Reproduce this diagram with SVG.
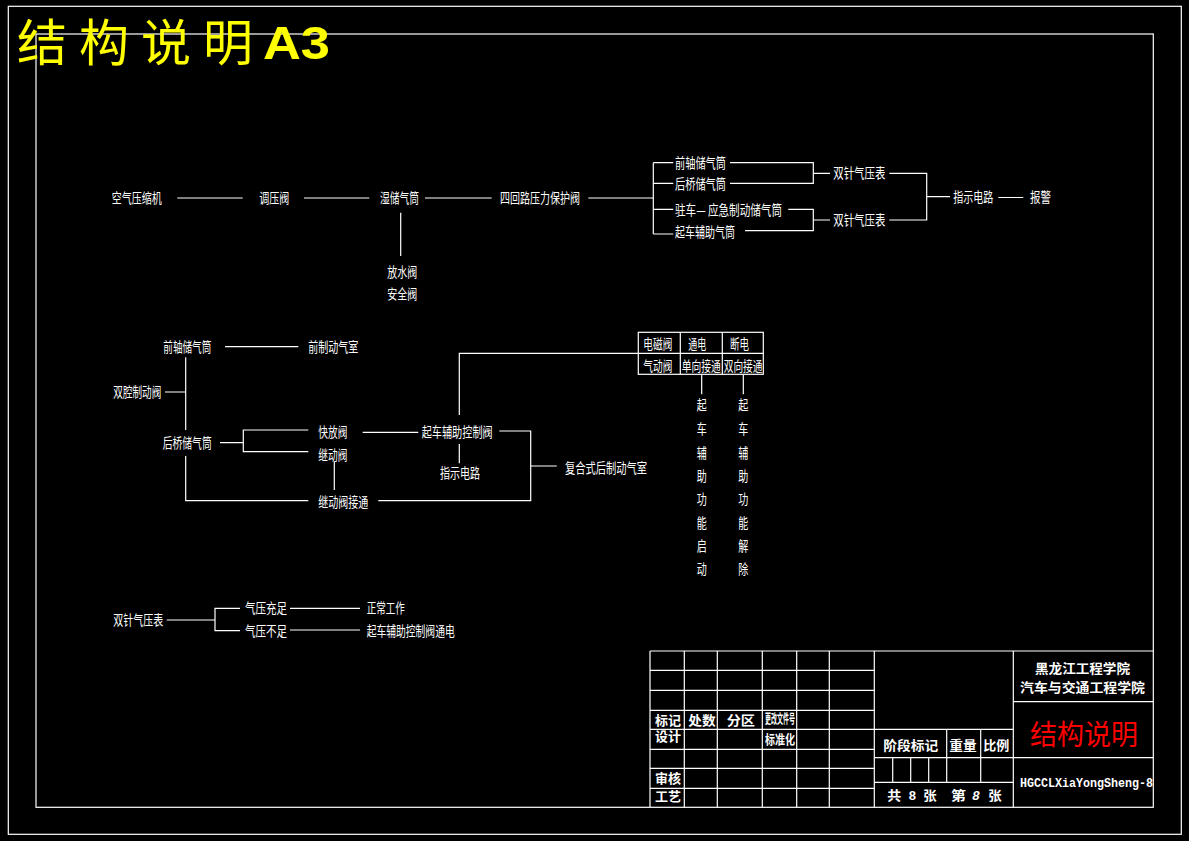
<svg xmlns="http://www.w3.org/2000/svg" width="1189" height="841" viewBox="0 0 1189 841">
<style>
.ln{fill:none;stroke:#ffffff;stroke-width:1.2}
.t{font-family:"Noto Sans CJK SC","Noto Sans",sans-serif;font-size:14px;fill:#ffffff}
.v{font-family:"Noto Sans CJK SC","Noto Sans",sans-serif;font-size:14px;fill:#ffffff;text-anchor:middle}
.b{font-family:"Noto Sans CJK SC","Noto Sans",sans-serif;font-size:13px;font-weight:bold;fill:#ffffff}
.m{font-family:"Liberation Mono",monospace;font-size:13px;font-weight:bold;fill:#ffffff}
</style>
<rect x="0" y="0" width="1189" height="841" fill="#000000"/>
<g id="frame" class="ln">
<rect x="8.3" y="6.3" width="1173" height="828"/>
<rect x="36" y="34" width="1117.3" height="773.3"/>
</g>
<g id="title">
<text x="17 79 141 203" y="61" font-family="'Noto Sans CJK SC',sans-serif" font-size="50" fill="#ffff00">结构说明</text>
<text x="263" y="58.5" font-family="'Liberation Sans',Arial,sans-serif" font-size="47" font-weight="bold" fill="#ffff00" textLength="67" lengthAdjust="spacingAndGlyphs">A3</text>
</g>
<g id="connectors" class="ln">
<path d="M177.3 198H242.7M304 198H369.3M425 198H491.7M588.3 198H653.3M400.7 212.7V256"/>
<path d="M653.3 162.7V234M653.3 162.7H673.3M653.3 183.3H673.3M653.3 209.3H673.3M653.3 234H673.3"/>
<path d="M730 162.7H813.3V183.3H730M813.3 173.3H830"/>
<path d="M788.3 209.3H813.3V230.7H745M813.3 220H830"/>
<path d="M889.3 173.3H926.7V220H889.3M926.7 196.7H950M998.3 197.5H1023.3"/>
<path d="M225 346.7H298.3M185.7 357.3V430M165 392H185.7M220 442.7H243.3M308.3 430H243.3V451.7H308.3"/>
<path d="M362.7 432.3H418.3M459.3 415V353.3H638.3M459.3 444V463.3M334.3 461.7V490"/>
<path d="M185.7 456V500.7H308.3M378.3 500.7H530.7V431H499.3M530.7 466H556.7"/>
<path d="M701.7 374.3V394.3M743.3 374.3V394.3"/>
<path d="M166.7 620H215M240 608.3H215V630.7H240M290 608.3H360M290 630H360"/>
</g>
<g id="n-kongya"><text class="t" x="111.7" y="202.5" textLength="50" lengthAdjust="spacingAndGlyphs">空气压缩机</text></g>
<g id="n-tiaoya"><text class="t" x="259.3" y="202.5" textLength="30" lengthAdjust="spacingAndGlyphs">调压阀</text></g>
<g id="n-shichu"><text class="t" x="380" y="202.5" textLength="39" lengthAdjust="spacingAndGlyphs">湿储气筒</text></g>
<g id="n-sihuilu"><text class="t" x="500" y="202.5" textLength="80" lengthAdjust="spacingAndGlyphs">四回路压力保护阀</text></g>
<g id="n-fangshui"><text class="t" x="387.3" y="276.7" textLength="30" lengthAdjust="spacingAndGlyphs">放水阀</text></g>
<g id="n-anquan"><text class="t" x="387.3" y="299" textLength="30" lengthAdjust="spacingAndGlyphs">安全阀</text></g>
<g id="n-qianzhou1"><text class="t" x="675" y="167.7" textLength="51" lengthAdjust="spacingAndGlyphs">前轴储气筒</text></g>
<g id="n-houqiao1"><text class="t" x="675" y="189" textLength="51" lengthAdjust="spacingAndGlyphs">后桥储气筒</text></g>
<g id="n-zhuche"><text class="t" x="675" y="215" textLength="107" lengthAdjust="spacingAndGlyphs">驻车— 应急制动储气筒</text></g>
<g id="n-qiche1"><text class="t" x="675" y="236.5" textLength="60" lengthAdjust="spacingAndGlyphs">起车辅助气筒</text></g>
<g id="n-shuangzhen1"><text class="t" x="833.3" y="178.3" textLength="52" lengthAdjust="spacingAndGlyphs">双针气压表</text></g>
<g id="n-shuangzhen2"><text class="t" x="833.3" y="225" textLength="52" lengthAdjust="spacingAndGlyphs">双针气压表</text></g>
<g id="n-zhishi1"><text class="t" x="953.3" y="202" textLength="40" lengthAdjust="spacingAndGlyphs">指示电路</text></g>
<g id="n-baojing"><text class="t" x="1030" y="202" textLength="21" lengthAdjust="spacingAndGlyphs">报警</text></g>
<g id="n-qianzhou2"><text class="t" x="163.3" y="351.7" textLength="48" lengthAdjust="spacingAndGlyphs">前轴储气筒</text></g>
<g id="n-qianzhidong"><text class="t" x="308.3" y="351.7" textLength="50" lengthAdjust="spacingAndGlyphs">前制动气室</text></g>
<g id="n-shuangqiang"><text class="t" x="113.3" y="397.3" textLength="48" lengthAdjust="spacingAndGlyphs">双腔制动阀</text></g>
<g id="n-houqiao2"><text class="t" x="162.7" y="447.7" textLength="49" lengthAdjust="spacingAndGlyphs">后桥储气筒</text></g>
<g id="n-kuaifang"><text class="t" x="318.3" y="436.7" textLength="29" lengthAdjust="spacingAndGlyphs">快放阀</text></g>
<g id="n-jidong"><text class="t" x="318.3" y="460" textLength="29" lengthAdjust="spacingAndGlyphs">继动阀</text></g>
<g id="n-qichekongzhi"><text class="t" x="421.7" y="436.7" textLength="71" lengthAdjust="spacingAndGlyphs">起车辅助控制阀</text></g>
<g id="n-zhishi2"><text class="t" x="440" y="477.7" textLength="40" lengthAdjust="spacingAndGlyphs">指示电路</text></g>
<g id="n-jidongjietong"><text class="t" x="318.3" y="506.7" textLength="50" lengthAdjust="spacingAndGlyphs">继动阀接通</text></g>
<g id="n-fuheshi"><text class="t" x="565" y="473.3" textLength="82" lengthAdjust="spacingAndGlyphs">复合式后制动气室</text></g>
<g id="n-table">
<rect class="ln" x="638.3" y="332.3" width="125" height="42"/>
<path class="ln" d="M638.3 353.3H763.3M680.3 332.3V374.3M722.3 332.3V374.3"/>
<text class="t" x="643.3" y="349" textLength="29" lengthAdjust="spacingAndGlyphs">电磁阀</text>
<text class="t" x="688.3" y="349" textLength="18" lengthAdjust="spacingAndGlyphs">通电</text>
<text class="t" x="730" y="349" textLength="19" lengthAdjust="spacingAndGlyphs">断电</text>
<text class="t" x="643.3" y="370.7" textLength="29" lengthAdjust="spacingAndGlyphs">气动阀</text>
<text class="t" x="681.7" y="370.7" textLength="39" lengthAdjust="spacingAndGlyphs">单向接通</text>
<text class="t" x="723.8" y="370.7" textLength="38.6" lengthAdjust="spacingAndGlyphs">双向接通</text>
</g>
<g id="n-qidong">
<text class="v" x="701.7" y="410" textLength="10" lengthAdjust="spacingAndGlyphs">起</text>
<text class="v" x="701.7" y="434.3" textLength="10" lengthAdjust="spacingAndGlyphs">车</text>
<text class="v" x="701.7" y="458.3" textLength="10" lengthAdjust="spacingAndGlyphs">辅</text>
<text class="v" x="701.7" y="481" textLength="10" lengthAdjust="spacingAndGlyphs">助</text>
<text class="v" x="701.7" y="504.3" textLength="10" lengthAdjust="spacingAndGlyphs">功</text>
<text class="v" x="701.7" y="527.7" textLength="10" lengthAdjust="spacingAndGlyphs">能</text>
<text class="v" x="701.7" y="551" textLength="10" lengthAdjust="spacingAndGlyphs">启</text>
<text class="v" x="701.7" y="574.3" textLength="10" lengthAdjust="spacingAndGlyphs">动</text>
</g>
<g id="n-jiechu">
<text class="v" x="743.3" y="410" textLength="10" lengthAdjust="spacingAndGlyphs">起</text>
<text class="v" x="743.3" y="434.3" textLength="10" lengthAdjust="spacingAndGlyphs">车</text>
<text class="v" x="743.3" y="458.3" textLength="10" lengthAdjust="spacingAndGlyphs">辅</text>
<text class="v" x="743.3" y="481" textLength="10" lengthAdjust="spacingAndGlyphs">助</text>
<text class="v" x="743.3" y="504.3" textLength="10" lengthAdjust="spacingAndGlyphs">功</text>
<text class="v" x="743.3" y="527.7" textLength="10" lengthAdjust="spacingAndGlyphs">能</text>
<text class="v" x="743.3" y="551" textLength="10" lengthAdjust="spacingAndGlyphs">解</text>
<text class="v" x="743.3" y="574.3" textLength="10" lengthAdjust="spacingAndGlyphs">除</text>
</g>
<g id="n-shuangzhen3"><text class="t" x="113.3" y="625" textLength="50" lengthAdjust="spacingAndGlyphs">双针气压表</text></g>
<g id="n-chongzu"><text class="t" x="245" y="613.3" textLength="42" lengthAdjust="spacingAndGlyphs">气压充足</text></g>
<g id="n-zhengchang"><text class="t" x="366.7" y="613.3" textLength="38" lengthAdjust="spacingAndGlyphs">正常工作</text></g>
<g id="n-buzu"><text class="t" x="245" y="635.5" textLength="42" lengthAdjust="spacingAndGlyphs">气压不足</text></g>
<g id="n-tongdian"><text class="t" x="366.7" y="635.5" textLength="88" lengthAdjust="spacingAndGlyphs">起车辅助控制阀通电</text></g>
<g id="titleblock">
<path class="ln" d="M650 651H1153.3M650 651V807.3M684.3 651V807.3M717.3 651V807.3M762.3 651V807.3M796.7 651V807.3M829.3 651V807.3M874.3 651V807.3M1013.3 651V807.3"/>
<path class="ln" d="M650 670.3H874.3M650 690.3H874.3M650 710.3H874.3M650 729.3H874.3M650 749.3H874.3M650 768.3H874.3M650 788.3H874.3"/>
<path class="ln" d="M874.3 729.3H1013.3M874.3 757.7H1013.3M874.3 782.3H1013.3M946.7 729.3V782.3M980.7 729.3V782.3M892.7 757.7V782.3M910.7 757.7V782.3M928.7 757.7V782.3"/>
<path class="ln" d="M1013.3 701.7H1153.3M1013.3 757.7H1153.3"/>
<text class="b" x="655" y="725" font-size="14" textLength="26" lengthAdjust="spacingAndGlyphs">标记</text>
<text class="b" x="688.3" y="725" font-size="14" textLength="27.4" lengthAdjust="spacingAndGlyphs">处数</text>
<text class="b" x="726.7" y="725" font-size="14" textLength="28.3" lengthAdjust="spacingAndGlyphs">分区</text>
<text class="b" x="765" y="722.5" font-size="7" textLength="30" lengthAdjust="spacingAndGlyphs">更改文件号</text>
<text class="b" x="655" y="741" textLength="26" lengthAdjust="spacingAndGlyphs">设计</text>
<text class="b" x="765" y="743.5" font-size="10" textLength="30" lengthAdjust="spacingAndGlyphs">标准化</text>
<text class="b" x="655" y="783.3" font-size="14" textLength="26" lengthAdjust="spacingAndGlyphs">审核</text>
<text class="b" x="655" y="801.3" font-size="14" textLength="26" lengthAdjust="spacingAndGlyphs">工艺</text>
<text class="b" x="883.3" y="750" font-size="14" textLength="55" lengthAdjust="spacingAndGlyphs">阶段标记</text>
<text class="b" x="949.3" y="750" font-size="14" textLength="27.4" lengthAdjust="spacingAndGlyphs">重量</text>
<text class="b" x="983.3" y="750" font-size="14" textLength="26" lengthAdjust="spacingAndGlyphs">比例</text>
<text class="b" x="887.3" y="800" font-size="14" textLength="14" lengthAdjust="spacingAndGlyphs">共</text>
<text class="m" x="908.5" y="799.5">8</text>
<text class="b" x="923.3" y="800" font-size="14" textLength="13.4" lengthAdjust="spacingAndGlyphs">张</text>
<text class="b" x="951" y="800" font-size="14" textLength="15" lengthAdjust="spacingAndGlyphs">第</text>
<text class="m" x="972" y="799.5" font-style="italic">8</text>
<text class="b" x="988.3" y="800" font-size="14" textLength="13.4" lengthAdjust="spacingAndGlyphs">张</text>
<text class="b" x="1035" y="673" textLength="95" lengthAdjust="spacingAndGlyphs">黑龙江工程学院</text>
<text class="b" x="1020" y="691.5" textLength="125" lengthAdjust="spacingAndGlyphs">汽车与交通工程学院</text>
<text x="1030" y="744.5" font-family="'Noto Sans CJK SC',sans-serif" font-size="28" fill="#ff0000" textLength="108" lengthAdjust="spacingAndGlyphs">结构说明</text>
<text class="m" x="1020" y="787" font-size="12" textLength="133" lengthAdjust="spacingAndGlyphs">HGCCLXiaYongSheng-8</text>
</g>
</svg>
